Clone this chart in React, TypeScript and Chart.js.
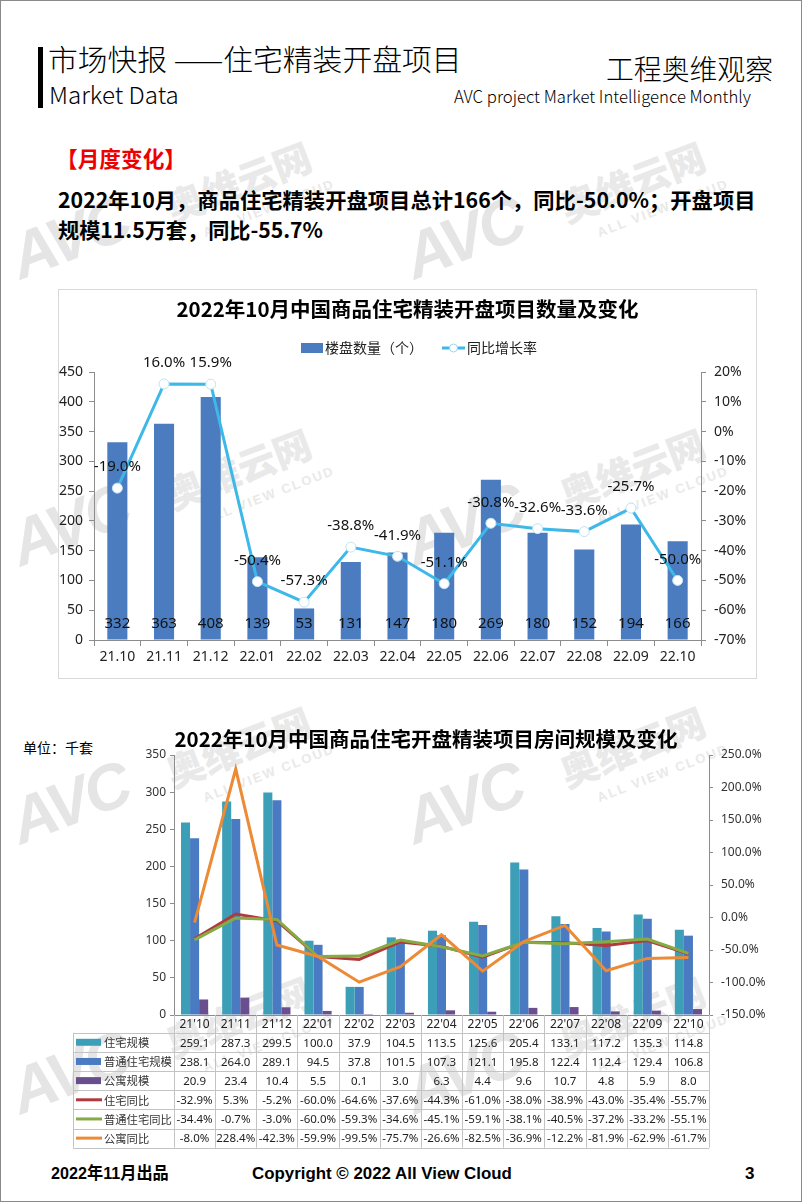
import React, { useEffect, useLayoutEffect, useRef } from "react";
import { Chart, registerables } from "chart.js";

Chart.register(...registerables);

const FONT = '"Noto Sans", "Noto Sans CJK SC", sans-serif';
const CJK = '"Noto Sans CJK SC", "Noto Sans", sans-serif';
const ARIAL = '"Liberation Sans", "Noto Sans CJK SC", sans-serif';

// ---------- Chart 1 data ----------
const months1 = ["21.10", "21.11", "21.12", "22.01", "22.02", "22.03", "22.04", "22.05", "22.06", "22.07", "22.08", "22.09", "22.10"];
const projectCounts = [332, 363, 408, 139, 53, 131, 147, 180, 269, 180, 152, 194, 166];
const projectYoY = [-19.0, 16.0, 15.9, -50.4, -57.3, -38.8, -41.9, -51.1, -30.8, -32.6, -33.6, -25.7, -50.0];

// ---------- Chart 2 data ----------
const months2 = ["21'10", "21'11", "21'12", "22'01", "22'02", "22'03", "22'04", "22'05", "22'06", "22'07", "22'08", "22'09", "22'10"];
const residentialScale = [259.1, 287.3, 299.5, 100.0, 37.9, 104.5, 113.5, 125.6, 205.4, 133.1, 117.2, 135.3, 114.8];
const ordinaryScale = [238.1, 264.0, 289.1, 94.5, 37.8, 101.5, 107.3, 121.1, 195.8, 122.4, 112.4, 129.4, 106.8];
const apartmentScale = [20.9, 23.4, 10.4, 5.5, 0.1, 3.0, 6.3, 4.4, 9.6, 10.7, 4.8, 5.9, 8.0];
const residentialYoY = [-32.9, 5.3, -5.2, -60.0, -64.6, -37.6, -44.3, -61.0, -38.0, -38.9, -43.0, -35.4, -55.7];
const ordinaryYoY = [-34.4, -0.7, -3.0, -60.0, -59.3, -34.6, -45.1, -59.1, -38.1, -40.5, -37.2, -33.2, -55.1];
const apartmentYoY = [-8.0, 228.4, -42.3, -59.9, -99.5, -75.7, -26.6, -82.5, -36.9, -12.2, -81.9, -62.9, -61.7];

const BAR_BLUE = "#4A7CBF";
const LINE_CYAN = "#3DB8E8";
const TEAL = "#3D9FB7";
const BLUE2 = "#4A7AC2";
const PURPLE = "#6A4F8E";
const RED = "#B03A3C";
const GREEN = "#86AB45";
const ORANGE = "#EC8A35";
const AXIS = "#8c8c8c";

// watermark tile anchors (top-left of the 奥维云网 mark)
const watermarkX = [173, 567];
const watermarkY = [150, 437, 715, 985];

function FitText(props: { text: string; width: number; style: React.CSSProperties }) {
  const ref = useRef<HTMLSpanElement>(null);
  useLayoutEffect(() => {
    const el = ref.current;
    if (!el) return;
    el.style.transform = "none";
    const w = el.offsetWidth;
    if (w > 0) el.style.transform = `scaleX(${props.width / w})`;
  }, [props.text, props.width]);
  return (
    <span
      ref={ref}
      style={{ position: "absolute", whiteSpace: "nowrap", transformOrigin: "left top", lineHeight: 1, ...props.style }}
    >
      {props.text}
    </span>
  );
}

function Watermark(props: { x: number; y: number }) {
  const base: React.CSSProperties = {
    position: "absolute",
    whiteSpace: "nowrap",
    lineHeight: 1,
    transformOrigin: "left bottom",
    transform: "rotate(-21deg)",
  };
  return (
    <div style={{ position: "absolute", left: props.x, top: props.y, width: 0, height: 0 }}>
      <div
        style={{
          ...base,
          left: -150,
          top: 138 - 64,
          fontFamily: ARIAL,
          fontWeight: 900,
          fontStyle: "italic",
          fontSize: 64,
          color: "#e5e5e5",
          letterSpacing: -3,
        }}
      >
        AVC
      </div>
      <div
        style={{ ...base, left: 0, top: 75 - 38, fontFamily: CJK, fontWeight: 900, fontSize: 38, color: "#e9e9e9" }}
      >
        奥维云网
      </div>
      <div
        style={{
          ...base,
          left: 32,
          top: 88 - 13,
          fontFamily: ARIAL,
          fontWeight: 700,
          fontSize: 13,
          letterSpacing: 2,
          color: "#e9e9e9",
        }}
      >
        ALL VIEW CLOUD
      </div>
    </div>
  );
}

function CountChart() {
  const ref = useRef<HTMLCanvasElement>(null);
  useEffect(() => {
    const canvas = ref.current;
    if (!canvas) return;

    const legendPlugin = {
      id: "legend1",
      afterDraw(chart: any) {
        const ctx = chart.ctx;
        const ds0 = chart.data.datasets[0];
        const ds1 = chart.data.datasets[1];
        const y = 59;
        ctx.save();
        ctx.fillStyle = ds0.backgroundColor;
        ctx.fillRect(243, y - 5, 22, 10);
        ctx.font = `14px ${CJK}`;
        ctx.fillStyle = "#222";
        ctx.textBaseline = "middle";
        ctx.textAlign = "left";
        ctx.fillText(ds0.label, 267, y);
        ctx.strokeStyle = ds1.borderColor;
        ctx.lineWidth = 3;
        ctx.beginPath();
        ctx.moveTo(384, y);
        ctx.lineTo(407, y);
        ctx.stroke();
        ctx.beginPath();
        ctx.arc(395.5, y, 4, 0, Math.PI * 2);
        ctx.fillStyle = "#fff";
        ctx.fill();
        ctx.lineWidth = 1;
        ctx.strokeStyle = "#9fd6ee";
        ctx.stroke();
        ctx.fillStyle = "#222";
        ctx.fillText(ds1.label, 409, y);
        ctx.restore();
      },
    };

    const labelPlugin = {
      id: "labels1",
      afterDatasetsDraw(chart: any) {
        const ctx = chart.ctx;
        ctx.save();
        ctx.font = `15px ${FONT}`;
        ctx.fillStyle = "#111";
        ctx.textAlign = "center";
        ctx.textBaseline = "middle";
        const base = chart.scales.y.getPixelForValue(0);
        chart.getDatasetMeta(0).data.forEach((el: any, i: number) => {
          ctx.fillText(String(chart.data.datasets[0].data[i]), el.x, base - 16);
        });
        chart.getDatasetMeta(1).data.forEach((el: any, i: number) => {
          ctx.fillText(Number(chart.data.datasets[1].data[i]).toFixed(1) + "%", el.x, el.y - 21);
        });
        ctx.restore();
      },
    };

    const tickFont = { family: FONT, size: 14 };
    const chart = new Chart(canvas, {
      type: "bar",
      data: {
        labels: months1,
        datasets: [
          {
            type: "bar",
            label: "楼盘数量（个）",
            data: projectCounts,
            backgroundColor: BAR_BLUE,
            yAxisID: "y",
            barPercentage: 0.43,
            categoryPercentage: 1,
            order: 2,
          } as any,
          {
            type: "line",
            label: "同比增长率",
            data: projectYoY,
            borderColor: LINE_CYAN,
            borderWidth: 3,
            pointRadius: 5,
            pointBackgroundColor: "#fff",
            pointBorderColor: "#bfe3f3",
            pointBorderWidth: 1,
            yAxisID: "y1",
            tension: 0,
            order: 1,
          } as any,
        ],
      },
      options: {
        responsive: false,
        animation: false,
        layout: { padding: 0 },
        plugins: {
          legend: { display: false },
          tooltip: { enabled: false },
          title: {
            display: true,
            text: "2022年10月中国商品住宅精装开盘项目数量及变化",
            color: "#000",
            font: { family: CJK, size: 20.5, weight: "bold" },
            padding: { top: 8, bottom: 50.4 },
          },
        },
        scales: {
          x: {
            grid: { display: true, drawOnChartArea: false, tickLength: 6, color: AXIS, offset: true },
            border: { display: true, color: AXIS },
            ticks: { font: tickFont, color: "#222", padding: 3, maxRotation: 0 },
            afterFit: (s: any) => {
              s.height = 39;
            },
          },
          y: {
            position: "left",
            min: 0,
            max: 450,
            ticks: { stepSize: 50, font: tickFont, color: "#222", padding: 6 },
            grid: { drawOnChartArea: false, tickLength: 5, color: AXIS },
            border: { display: true, color: AXIS },
            afterFit: (s: any) => {
              s.width = 36;
            },
          },
          y1: {
            position: "right",
            min: -70,
            max: 20,
            ticks: { stepSize: 10, font: tickFont, color: "#222", padding: 8, callback: (v: any) => v + "%" },
            grid: { drawOnChartArea: false, tickLength: 5, color: AXIS },
            border: { display: true, color: AXIS },
            afterFit: (s: any) => {
              s.width = 56;
            },
          },
        },
      } as any,
      plugins: [labelPlugin, legendPlugin],
    });
    return () => chart.destroy();
  }, []);
  return (
    <canvas
      ref={ref}
      width={699}
      height={390}
      style={{ position: "absolute", left: 57, top: 288, width: 699, height: 390 }}
    />
  );
}

function ScaleChart() {
  const ref = useRef<HTMLCanvasElement>(null);
  useEffect(() => {
    const canvas = ref.current;
    if (!canvas) return;

    const tablePlugin = {
      id: "dataTable",
      afterDraw(chart: any) {
        const ctx = chart.ctx;
        const xs = chart.scales.x;
        const labels = chart.data.labels;
        const n = labels.length;
        const step = xs.getPixelForValue(1) - xs.getPixelForValue(0);
        const x0 = xs.getPixelForValue(0) - step / 2;
        const xEnd = x0 + step * n;
        const top = chart.chartArea.bottom;
        const headerH = 17.7;
        const rowH = 19.17;
        const legendLeft = 12;
        const datasets = chart.data.datasets;
        const bottom = top + headerH + rowH * datasets.length;
        const line = (a: number, b: number, c: number, d: number) => {
          ctx.beginPath();
          ctx.moveTo(a, b);
          ctx.lineTo(c, d);
          ctx.stroke();
        };
        ctx.save();
        ctx.strokeStyle = "#c3c3c3";
        ctx.lineWidth = 1;
        for (let r = 0; r <= datasets.length; r++) {
          const y = Math.round(top + headerH + r * rowH) + 0.5;
          line(legendLeft, y, xEnd, y);
        }
        for (let i = 0; i <= n; i++) {
          const x = Math.round(x0 + i * step) + 0.5;
          line(x, top, x, bottom);
        }
        line(legendLeft + 0.5, top + headerH, legendLeft + 0.5, bottom);

        ctx.textBaseline = "middle";
        ctx.textAlign = "center";
        ctx.fillStyle = "#222";
        ctx.font = `12px ${FONT}`;
        labels.forEach((l: string, i: number) => ctx.fillText(l, xs.getPixelForValue(i), top + headerH / 2 + 1));

        datasets.forEach((ds: any, r: number) => {
          const cy = top + headerH + rowH * (r + 0.5);
          if (ds.type === "line") {
            ctx.strokeStyle = ds.borderColor;
            ctx.lineWidth = 3;
            line(legendLeft + 3, cy, legendLeft + 29, cy);
          } else {
            ctx.fillStyle = ds.backgroundColor;
            ctx.fillRect(legendLeft + 3, cy - 3.5, 25, 7);
          }
          ctx.fillStyle = "#333";
          ctx.textAlign = "left";
          ctx.font = `11.3px ${CJK}`;
          ctx.fillText(ds.label, legendLeft + 31, cy + 0.5);
          ctx.textAlign = "center";
          ctx.font = `11.5px ${FONT}`;
          ctx.fillStyle = "#222";
          ds.data.forEach((v: number, i: number) => {
            const t = ds.type === "line" ? v.toFixed(1) + "%" : v.toFixed(1);
            ctx.fillText(t, xs.getPixelForValue(i), cy + 1);
          });
        });
        ctx.restore();
      },
    };

    const tickFont = { family: FONT, size: 12 };
    const chart = new Chart(canvas, {
      type: "bar",
      data: {
        labels: months2,
        datasets: [
          { type: "bar", label: "住宅规模", data: residentialScale, backgroundColor: TEAL, yAxisID: "y", order: 5 } as any,
          { type: "bar", label: "普通住宅规模", data: ordinaryScale, backgroundColor: BLUE2, yAxisID: "y", order: 5 } as any,
          { type: "bar", label: "公寓规模", data: apartmentScale, backgroundColor: PURPLE, yAxisID: "y", order: 5 } as any,
          { type: "line", label: "住宅同比", data: residentialYoY, borderColor: RED, borderWidth: 3, pointRadius: 0, yAxisID: "y1", order: 2 } as any,
          { type: "line", label: "普通住宅同比", data: ordinaryYoY, borderColor: GREEN, borderWidth: 3, pointRadius: 0, yAxisID: "y1", order: 1 } as any,
          { type: "line", label: "公寓同比", data: apartmentYoY, borderColor: ORANGE, borderWidth: 3, pointRadius: 0, yAxisID: "y1", order: 0 } as any,
        ],
      },
      options: {
        responsive: false,
        animation: false,
        layout: { padding: 0 },
        datasets: { bar: { categoryPercentage: 0.66, barPercentage: 1 } },
        plugins: {
          legend: { display: false },
          tooltip: { enabled: false },
          title: {
            display: true,
            text: "2022年10月中国商品住宅开盘精装项目房间规模及变化",
            color: "#000",
            font: { family: CJK, size: 20.5, weight: "bold" },
            padding: { top: 5.7, bottom: 3.7 },
          },
        },
        scales: {
          x: {
            grid: { display: false },
            border: { display: true, color: AXIS },
            ticks: { display: false },
            afterFit: (s: any) => {
              s.height = 138;
            },
          },
          y: {
            position: "left",
            min: 0,
            max: 350,
            ticks: { stepSize: 50, font: tickFont, color: "#333", padding: 4 },
            grid: { drawOnChartArea: false, tickLength: 4, color: AXIS },
            border: { display: true, color: AXIS },
            afterFit: (s: any) => {
              s.width = 113;
            },
          },
          y1: {
            position: "right",
            min: -150,
            max: 250,
            ticks: { stepSize: 50, font: tickFont, color: "#333", padding: 8, callback: (v: any) => Number(v).toFixed(1) + "%" },
            grid: { drawOnChartArea: false, tickLength: 4, color: AXIS },
            border: { display: true, color: AXIS },
            afterFit: (s: any) => {
              s.width = 82;
            },
          },
        },
      } as any,
      plugins: [tablePlugin],
    });
    return () => chart.destroy();
  }, []);
  return (
    <canvas
      ref={ref}
      width={730}
      height={432}
      style={{ position: "absolute", left: 60, top: 720, width: 730, height: 432 }}
    />
  );
}

export default function App() {
  return (
    <div
      style={{
        position: "absolute",
        left: 0,
        top: 0,
        width: 802,
        height: 1202,
        boxSizing: "border-box",
        border: "1px solid #8a8a8a",
        background: "#fff",
        overflow: "hidden",
        fontFamily: CJK,
        color: "#000",
      }}
    >
      {watermarkY.map((wy) => watermarkX.map((wx) => <Watermark key={`${wx}-${wy}`} x={wx} y={wy} />))}

      <div style={{ position: "absolute", left: 37, top: 46, width: 5, height: 61, background: "#000" }} />
      <FitText text="市场快报 ——住宅精装开盘项目" width={414} style={{ left: 47, top: 43, fontSize: 29, fontWeight: 300 }} />
      <FitText text="Market Data" width={130} style={{ left: 48, top: 82, fontSize: 23, fontWeight: 300 }} />
      <FitText text="工程奥维观察" width={167} style={{ left: 605, top: 53, fontSize: 28, fontWeight: 300 }} />
      <FitText text="AVC  project Market Intelligence Monthly" width={297} style={{ left: 453, top: 86, fontSize: 17, fontWeight: 300 }} />

      <FitText text="【月度变化】" width={130} style={{ left: 55, top: 145, fontSize: 22, fontWeight: 700, color: "#EE0000" }} />
      <FitText
        text="2022年10月，商品住宅精装开盘项目总计166个，同比-50.0%；开盘项目"
        width={698}
        style={{ left: 57, top: 188, fontSize: 21, fontWeight: 700 }}
      />
      <FitText text="规模11.5万套，同比-55.7%" width={265} style={{ left: 57, top: 218, fontSize: 21, fontWeight: 700 }} />

      <div
        style={{
          position: "absolute",
          left: 57,
          top: 288,
          width: 699,
          height: 390,
          boxSizing: "border-box",
          border: "1px solid #d9d9d9",
        }}
      />
      <CountChart />

      <FitText text="单位：千套" width={70} style={{ left: 22, top: 739, fontSize: 14 }} />
      <ScaleChart />

      <FitText text="2022年11月出品" width={118} style={{ left: 50, top: 1164, fontSize: 17, fontWeight: 700, fontFamily: ARIAL }} />
      <FitText text="Copyright © 2022  All View Cloud" width={260} style={{ left: 251, top: 1164, fontSize: 17, fontWeight: 700, fontFamily: ARIAL }} />
      <FitText text="3" width={9} style={{ left: 744, top: 1164, fontSize: 17, fontWeight: 700, fontFamily: ARIAL }} />
    </div>
  );
}
